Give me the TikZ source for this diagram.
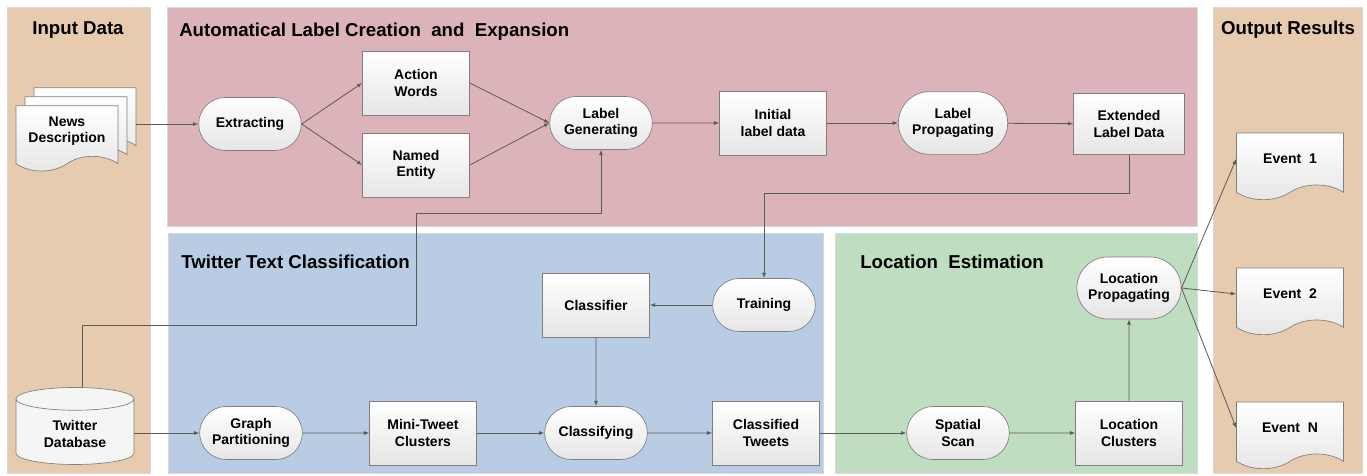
\documentclass[tikz,border=0pt]{standalone}
\usepackage{fontspec}
\setmainfont{Liberation Sans}
\usetikzlibrary{shapes.misc,shapes.symbols,shapes.geometric,arrows.meta}
\definecolor{inputc}{HTML}{E6CBAF}
\definecolor{pinkc}{HTML}{DDB3BA}
\definecolor{bluec}{HTML}{B8CCE4}
\definecolor{greenc}{HTML}{BFDEC1}
\definecolor{linec}{HTML}{5A5A5A}
\definecolor{borderc}{HTML}{7F7F7F}
\begin{document}
\begin{tikzpicture}[x=0.75pt,y=-0.75pt,
 panel/.style={draw=black!15, line width=0.6pt},
 ptitle/.style={font=\bfseries\fontsize{14}{16}\selectfont, anchor=west, inner sep=0pt},
 base/.style={draw=borderc, line width=0.5pt, top color=white, bottom color=black!10, font=\bfseries\fontsize{10.5}{12.5}\selectfont, align=center, inner sep=1pt},
 proc/.style={base, rectangle, minimum width=80.25pt, minimum height=48pt},
 term/.style={base, rounded rectangle, minimum width=79pt, minimum height=39.75pt},
 docshape/.style={base, tape, tape bend top=none, tape bend bottom=in and out, tape bend height=11pt, minimum width=80.25pt, minimum height=50pt},
 conn/.style={draw=linec, line width=0.6pt, -{Latex[length=4pt,width=3pt]}}
]
\useasboundingbox (0,0) rectangle (1367,475);
\fill[white] (0,0) rectangle (1367,475);
% panels
\draw[panel, fill=inputc] (7,7) rectangle (150,473);
\draw[panel, fill=pinkc] (167,7) rectangle (1197,226);
\draw[panel, fill=bluec] (168,233) rectangle (823,473);
\draw[panel, fill=greenc] (835,233) rectangle (1197,473);
\draw[panel, fill=inputc] (1213,7) rectangle (1362,473);
% titles
\node[ptitle, anchor=center] (tin) at (78,30) {Input Data};
\node[ptitle] (tlab) at (179,32) {Automatical Label Creation\ \ and\ \ Expansion};
\node[ptitle] (ttw) at (181,262) {Twitter Text Classification};
\node[ptitle] (tloc) at (860,262) {Location\ \ Estimation};
\node[ptitle, anchor=center] (tout) at (1288,30) {Output Results};
% input documents
\node[docshape, minimum width=76.5pt, minimum height=49pt] (news3) at (85,113) {};
\node[docshape, minimum width=76.5pt, minimum height=49pt] (news2) at (76,122) {};
\node[docshape, minimum width=76.5pt, minimum height=49pt] (news) at (67,131) {News\\Description};
% label creation
\node[term] (extract) at (250,124) {Extracting};
\node[proc] (action) at (416,83) {Action\\Words};
\node[proc] (named) at (416,165) {Named\\Entity};
\node[term] (labgen) at (601,123) {Label\\Generating};
\node[proc] (initial) at (773,123) {Initial\\label data};
\node[term, minimum width=84pt, minimum height=47pt] (labprop) at (953,123) {Label\\Propagating};
\node[proc, minimum width=83pt, minimum height=46pt] (extended) at (1129,124) {Extended\\Label Data};
% twitter classification
\node[cylinder, shape border rotate=90, aspect=0.32, draw=borderc, line width=0.5pt, fill=black!4, minimum width=88.5pt, minimum height=57.75pt, align=center, font=\bfseries\fontsize{10.5}{12.5}\selectfont] (db) at (75,434) {Twitter\\Database};
\node[term] (graph) at (251,433) {Graph\\Partitioning};
\node[proc] (mini) at (423,433) {Mini-Tweet\\Clusters};
\node[term] (classifying) at (596,433) {Classifying};
\node[proc] (classified) at (766,433) {Classified\\Tweets};
\node[proc] (classifier) at (596,305) {Classifier};
\node[term] (training) at (764,305) {Training};
% location estimation
\node[term] (spatial) at (958,433) {Spatial\\Scan};
\node[proc] (locclus) at (1129,433) {Location\\Clusters};
\node[term, minimum width=80.25pt, minimum height=46.5pt] (locprop) at (1129,288) {Location\\Propagating};
% outputs
\node[docshape] (ev1) at (1290,159) {Event\ \ 1};
\node[docshape] (ev2) at (1290,294) {Event\ \ 2};
\node[docshape] (evn) at (1290,428) {Event\ \ N};
% connectors
\draw[conn] (extract.west -| news3.east) -- (extract.west);
\draw[conn] (extract.east) -- (action.west);
\draw[conn] (extract.east) -- (named.west);
\draw[conn] (action.east) -- (labgen.west);
\draw[conn] (named.east) -- (labgen.west);
\draw[conn] (labgen) -- (initial);
\draw[conn] (initial) -- (labprop);
\draw[conn] (labprop) -- (extended);
\draw[conn] (extended.south) -- ++(0,38) -| (training.north);
\coordinate (j0) at (82,325);
\coordinate (j1) at (416,325);
\coordinate (j2) at (416,213);
\draw[conn] (db.north -| j0) -- (j0) -- (j1) -- (j2) -| (labgen.south);
\draw[conn] (db.east |- graph) -- (graph.west);
\draw[conn] (graph) -- (mini);
\draw[conn] (mini) -- (classifying);
\draw[conn] (classifying) -- (classified);
\draw[conn] (classified) -- (spatial);
\draw[conn] (spatial) -- (locclus);
\draw[conn] (locclus) -- (locprop);
\draw[conn] (training) -- (classifier);
\draw[conn] (classifier) -- (classifying);
\draw[conn] (locprop.east) -- (ev1.west);
\draw[conn] (locprop.east) -- (ev2.west);
\draw[conn] (locprop.east) -- (evn.west);
\end{tikzpicture}
\end{document}
